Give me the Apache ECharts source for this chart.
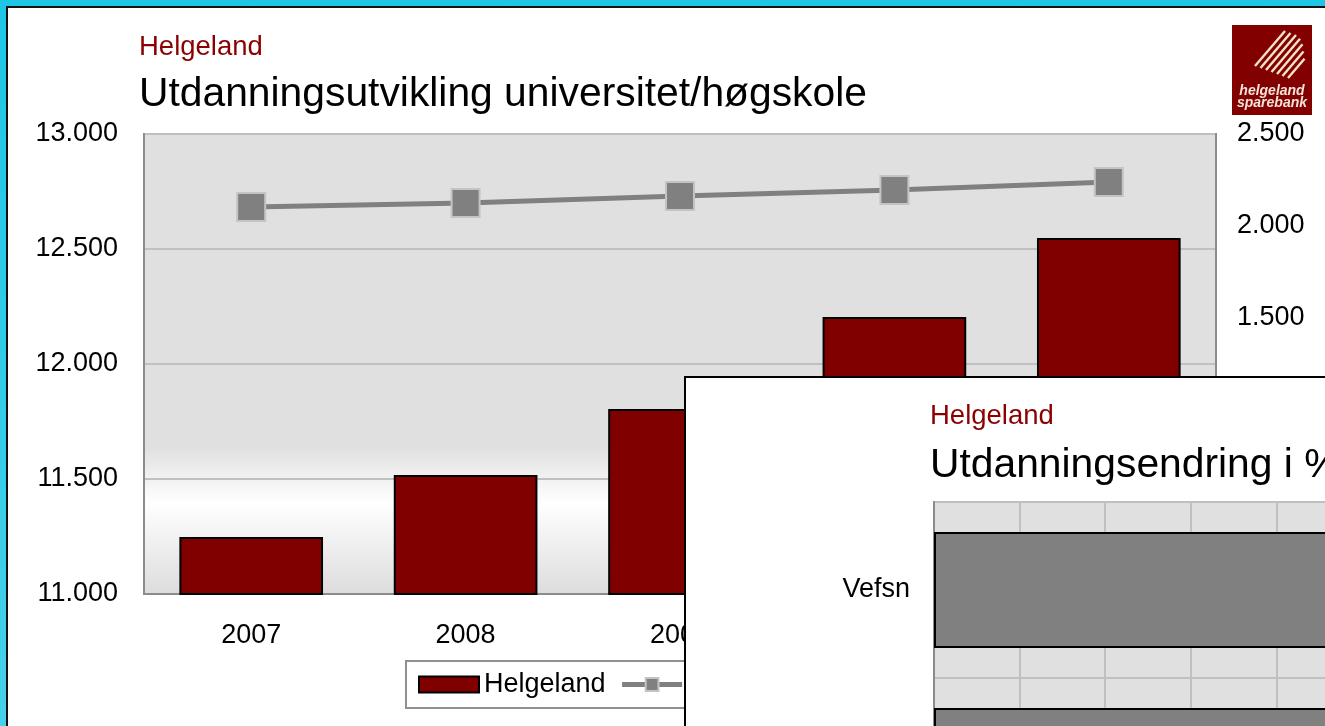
<!DOCTYPE html>
<html>
  <head>
    <meta charset="utf-8">
    <script src="https://cdn.jsdelivr.net/npm/echarts@6/dist/echarts.min.js"></script>
    <style>
      html, body { margin: 0; padding: 0; width: 1325px; height: 726px; overflow: hidden; }
      body { background: linear-gradient(to bottom, #1ec6e6, #45d1ea); position: relative; }
      .panel { position: absolute; left: 6px; top: 6px; width: 1400px; height: 800px; background: #fff; border: 2px solid #111; }
      .chart { position: absolute; left: 0; top: 0; width: 1325px; height: 726px; }
      .inset { position: absolute; left: 684px; top: 376px; width: 1200px; height: 520px; background: #fff; border: 2px solid #000; box-sizing: border-box; z-index: 5; }
    </style>
  </head>
  <body>
    <div class="panel"></div>
    <div class="chart" id="main"></div>
    <div class="inset" id="inset"></div>
    <script>
      // main chart
      var years = ['2007', '2008', '2009', '2010', '2011'];
      var antall = [11248, 11517, 11804, 12204, 12548];
      var andel = [2103, 2125, 2163, 2196, 2239];
      var leftTicks = [11000, 13000, 500];
      var rightTicks = [0, 2500, 500];

      // inset chart
      var kommuner = ['Vefsn', 'Rana'];
      var endring = [9.6, 9.8];

      var FONT = 'Liberation Sans, Arial, sans-serif';
      var RED = '#8b0000';

      function thousands(v) {
        return String(v).replace(/\B(?=(\d{3})+(?!\d))/g, '.');
      }

      function logo(x, y) {
        var kids = [{ type: 'rect', shape: { x: 0, y: 0, width: 80, height: 90 }, style: { fill: '#820000' } }];
        var len = [1, 1, 1, 0.95, 0.85, 0.7, 0.55];
        for (var i = 0; i < len.length; i++) {
          var x1 = 23 + i * 5.5, y1 = 41 + i * 2;
          kids.push({
            type: 'line',
            shape: { x1: x1, y1: y1, x2: x1 + 30 * len[i], y2: y1 - 35 * len[i] },
            style: { stroke: '#f3e3c8', lineWidth: 2.4 }
          });
        }
        kids.push({ type: 'text', x: 40, y: 66, style: { text: 'helgeland', fill: '#f3e3d8', font: 'italic bold 14px ' + FONT, align: 'center', verticalAlign: 'middle' } });
        kids.push({ type: 'text', x: 40, y: 78, style: { text: 'sparebank', fill: '#f3e3d8', font: 'italic bold 14px ' + FONT, align: 'center', verticalAlign: 'middle' } });
        return { type: 'group', x: x, y: y, children: kids };
      }

      var chart = echarts.init(document.getElementById('main'), null, { renderer: 'canvas' });
      chart.setOption({
        animation: false,
        textStyle: { fontFamily: FONT },
        graphic: [
          { type: 'text', x: 139, y: 47, style: { text: 'Helgeland', fill: RED, font: '27.5px ' + FONT, verticalAlign: 'middle' } },
          { type: 'text', x: 139, y: 95, style: { text: 'Utdanningsutvikling universitet/høgskole', fill: '#000', font: '40.8px ' + FONT, verticalAlign: 'middle' } },
          logo(1232, 25)
        ],
        legend: {
          left: 406, top: 661,
          padding: [10, 12],
          borderColor: '#909090', borderWidth: 2,
          itemWidth: 60, itemHeight: 16, itemGap: 14,
          textStyle: { fontSize: 27, color: '#000', fontFamily: FONT },
          data: [
            { name: 'Helgeland', icon: 'rect' },
            { name: 'Andel', lineStyle: { color: '#808080', width: 5 }, itemStyle: { color: '#808080', borderColor: '#c4c4c4', borderWidth: 2 } }
          ]
        },
        grid: {
          left: 144, top: 134, right: 109, bottom: 132,
          show: true,
          borderColor: '#8c8c8c', borderWidth: 2,
          backgroundColor: new echarts.graphic.LinearGradient(0, 0, 0, 1, [
            { offset: 0, color: '#e0e0e0' },
            { offset: 0.68, color: '#e0e0e0' },
            { offset: 0.8, color: '#ffffff' },
            { offset: 1, color: '#dcdcdc' }
          ])
        },
        xAxis: {
          type: 'category', data: years,
          axisLine: { lineStyle: { color: '#8c8c8c', width: 2 } },
          axisTick: { show: false },
          axisLabel: { fontSize: 27, color: '#000', margin: 28, fontFamily: FONT }
        },
        yAxis: [{
          type: 'value', min: leftTicks[0], max: leftTicks[1], interval: leftTicks[2],
          axisLine: { show: true, lineStyle: { color: '#8c8c8c', width: 2 } },
          axisTick: { show: false },
          splitLine: { lineStyle: { color: '#c0c0c0', width: 2 } },
          axisLabel: { fontSize: 27, color: '#000', margin: 26, fontFamily: FONT, formatter: thousands }
        }, {
          type: 'value', min: rightTicks[0], max: rightTicks[1], interval: rightTicks[2],
          axisLine: { show: true, lineStyle: { color: '#8c8c8c', width: 2 } },
          axisTick: { show: false },
          splitLine: { show: false },
          axisLabel: { fontSize: 27, color: '#000', margin: 21, fontFamily: FONT, formatter: thousands }
        }],
        series: [{
          name: 'Helgeland', type: 'bar', data: antall, barWidth: '67%',
          itemStyle: { color: '#800000', borderColor: '#000', borderWidth: 2 }
        }, {
          name: 'Andel', type: 'line', yAxisIndex: 1, data: andel,
          symbol: 'rect', symbolSize: 28,
          lineStyle: { color: '#808080', width: 5 },
          itemStyle: { color: '#808080', borderColor: '#c4c4c4', borderWidth: 2 },
          z: 3
        }]
      });

      var inset = echarts.init(document.getElementById('inset'), null, { renderer: 'canvas' });
      inset.setOption({
        animation: false,
        textStyle: { fontFamily: FONT },
        graphic: [
          { type: 'text', x: 244, y: 38, style: { text: 'Helgeland', fill: RED, font: '27.5px ' + FONT, verticalAlign: 'middle' } },
          { type: 'text', x: 244, y: 88, style: { text: 'Utdanningsendring i %', fill: '#000', font: '40.8px ' + FONT, verticalAlign: 'middle' } }
        ],
        grid: {
          left: 248, top: 124, width: 856, height: 352,
          show: true, borderColor: '#8c8c8c', borderWidth: 2, backgroundColor: '#e0e0e0'
        },
        xAxis: {
          type: 'value', min: 0, max: 20, interval: 2,
          axisLine: { show: false }, axisTick: { show: false },
          splitLine: { lineStyle: { color: '#c0c0c0', width: 2 } },
          axisLabel: { fontSize: 27, color: '#000' }
        },
        yAxis: {
          type: 'category', data: kommuner, inverse: true,
          axisLine: { lineStyle: { color: '#8c8c8c', width: 2 } },
          axisTick: { show: false },
          splitLine: { show: true, lineStyle: { color: '#c0c0c0', width: 2 } },
          axisLabel: { fontSize: 27, color: '#000', margin: 24, fontFamily: FONT }
        },
        series: [{
          type: 'bar', data: endring, barWidth: '66%',
          itemStyle: { color: '#808080', borderColor: '#000', borderWidth: 2 }
        }]
      });
    </script>
  </body>
</html>
